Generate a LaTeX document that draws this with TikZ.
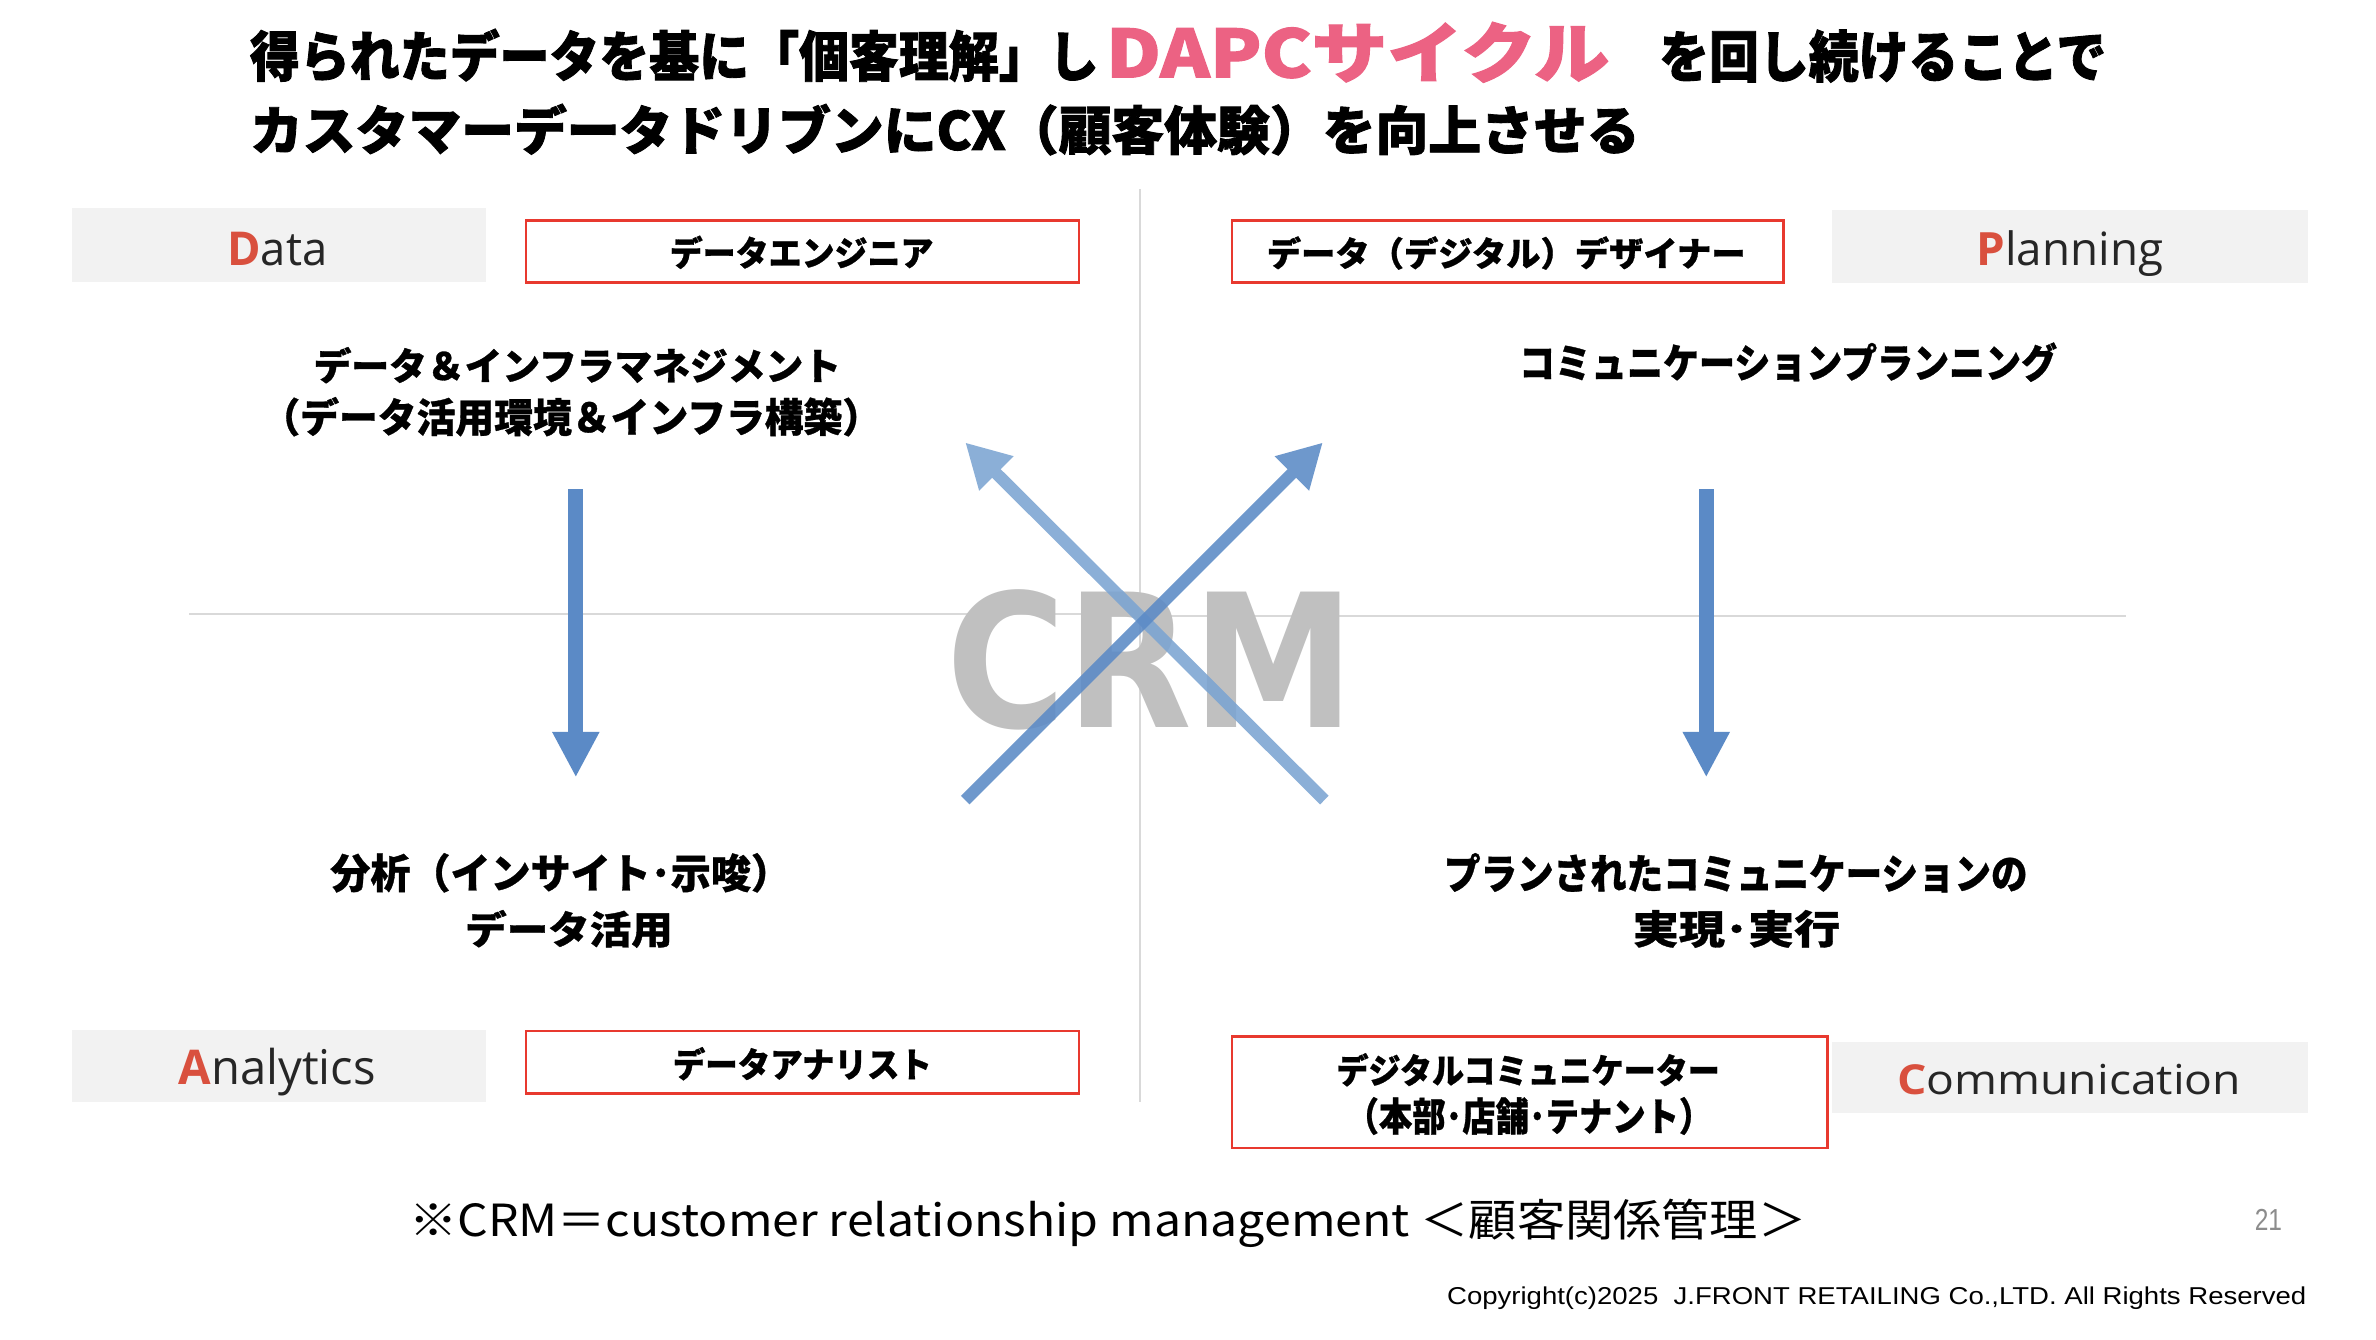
\documentclass[tikz,border=0pt]{standalone}
\usepackage{fontspec}
\usepackage{graphicx}
\usetikzlibrary{arrows.meta}
\newfontfamily\jpfont{Noto Sans CJK JP}
\newfontfamily\jph{Noto Sans CJK JP}[BoldFeatures={FakeBold=1.6}]
\newfontfamily\jpb{Noto Sans CJK JP}[BoldFeatures={FakeBold=0.8}]
\newfontfamily\labfont{Open Sans}
\newfontfamily\crmfont{DejaVu Sans}
\newfontfamily\arifont{Liberation Sans}
\definecolor{pinkc}{HTML}{EC6283}
\definecolor{redb}{HTML}{E8392F}
\definecolor{boxg}{HTML}{F2F2F2}
\definecolor{labred}{HTML}{D9503E}
\definecolor{labtxt}{HTML}{262626}
\definecolor{gridc}{HTML}{D9D9D9}
\definecolor{crmc}{HTML}{C0C0C0}
\definecolor{blued}{HTML}{5B8AC6}
\definecolor{bluel}{HTML}{7BA4D2}
\definecolor{pgnum}{HTML}{8C8C8C}
% width, total height (ink)
\newcommand\fitc[3]{\resizebox*{#1pt}{#2pt}{#3}}
% width, height above baseline
\newcommand\fitb[3]{\resizebox{#1pt}{#2pt}{#3}}
\begin{document}
\begin{tikzpicture}[x=1pt,y=-1pt,
  txt/.style={inner sep=0pt, outer sep=0pt},
  greybox/.style={fill=boxg, draw=none, inner sep=0pt},
  redbox/.style={draw=redb, line width=1.6pt, fill=white, inner sep=0pt},
  gridline/.style={draw=gridc, line width=1.5pt},
  downarrow/.style={draw=blued, fill=blued, line width=10pt, -{Triangle[width=29pt,length=30pt]}},
  diagarrow/.style={line width=8pt, -{Triangle[width=30pt,length=29pt]}},
]
\useasboundingbox (0,0) rectangle (1568,884);
\fill[white] (0,0) rectangle (1568,884);

% ---- title ----
\node[txt] (t1a) at (445,36.5) {\fitc{560}{35}{\jph\bfseries 得られたデータを基に「個客理解」し}};
\node[txt, text=pinkc] (t1b) at (896,34.5) {\fitc{332}{40}{\jph\bfseries DAPCサイクル}};
\node[txt] (t1c) at (1242.5,37) {\fitc{295}{35}{\jph\bfseries を回し続けることで}};
\node[txt] (t2) at (623.5,85.5) {\fitc{917}{34}{\jph\bfseries カスタマーデータドリブンにCX（顧客体験）を向上させる}};

% ---- grid lines ----
\coordinate (vtop) at (752.5,125);
\coordinate (vbot) at (752.5,727);
\coordinate (hl) at (125,405);
\coordinate (hm) at (752.5,405);
\coordinate (hm2) at (752.5,406.5);
\coordinate (hr) at (1403,406.5);
\draw[gridline] (vtop) -- (vbot);
\draw[gridline] (hl) -- (hm);
\draw[gridline] (hm2) -- (hr);

% ---- CRM ----
\node[txt, anchor=base, text=crmc] (crm) at (759.5,480) {\fitb{269}{91}{\crmfont\bfseries CRM}};

% ---- arrows ----
\coordinate (la1) at (380,323);
\coordinate (la2) at (380,513);
\coordinate (ra1) at (1126,323);
\coordinate (ra2) at (1126,513);
\draw[downarrow] (la1) -- (la2);
\draw[downarrow] (ra1) -- (ra2);
\coordinate (d1s) at (874,528);
\coordinate (d1e) at (637,292);
\coordinate (d2s) at (637,528);
\coordinate (d2e) at (873,292);
\begin{scope}[transparency group, opacity=0.88]
\draw[diagarrow, draw=bluel, fill=bluel] (d1s) -- (d1e);
\end{scope}
\begin{scope}[transparency group, opacity=0.88]
\draw[diagarrow, draw=blued, fill=blued] (d2s) -- (d2e);
\end{scope}

% ---- grey corner boxes ----
\node[greybox, minimum width=273.5pt, minimum height=49pt] (databox) at (184.25,161.5) {};
\node[txt, anchor=base, text=labtxt] (datalbl) at (183,175) {\fitb{66}{22}{\labfont{\bfseries\color{labred}D}ata}};
\node[greybox, minimum width=314pt, minimum height=48.5pt] (planbox) at (1366,162.8) {};
\node[txt, anchor=base, text=labtxt] (planlbl) at (1366,175) {\fitb{123}{23}{\labfont{\bfseries\color{labred}P}lanning}};
\node[greybox, minimum width=273.5pt, minimum height=47pt] (anabox) at (184.25,703.5) {};
\node[txt, anchor=base, text=labtxt] (analbl) at (183,716) {\fitb{130}{24}{\labfont{\bfseries\color{labred}A}nalytics}};
\node[greybox, minimum width=314pt, minimum height=47pt] (combox) at (1366,711) {};
\node[txt, anchor=base, text=labtxt] (comlbl) at (1365.5,722.6) {\fitb{227}{20}{\labfont{\bfseries\color{labred}C}ommunication}};

% ---- red role boxes ----
\node[redbox, minimum width=365pt, minimum height=41pt] (engbox) at (529.5,166) {};
\node[txt] (englbl) at (529,166.5) {\fitc{174}{22}{\jpb\bfseries データエンジニア}};
\node[redbox, minimum width=364pt, minimum height=41pt] (desbox) at (995,166) {};
\node[txt] (deslbl) at (994,167) {\fitc{316}{22}{\jpb\bfseries データ（デジタル）デザイナー}};
\node[redbox, minimum width=365pt, minimum height=41.5pt] (anlbox) at (529.5,701) {};
\node[txt] (anllbl) at (529.5,702) {\fitc{171}{22}{\jpb\bfseries データアナリスト}};
\node[redbox, minimum width=393pt, minimum height=73.5pt] (dcbox) at (1009.5,720.8) {};
\node[txt] (dclbl1) at (1008.5,706) {\fitc{253}{22}{\jpb\bfseries デジタルコミュニケーター}};
\node[txt] (dclbl2) at (1009,736.5) {\fitc{242}{25}{\jpb\bfseries （本部･店舗･テナント）}};

% ---- main texts ----
\node[txt] (m1a) at (381,241) {\fitc{348}{24}{\jpb\bfseries データ＆インフラマネジメント}};
\node[txt] (m1b) at (377,275) {\fitc{409}{26}{\jpb\bfseries （データ活用環境＆インフラ構築）}};
\node[txt] (m2a) at (1180,239) {\fitc{355}{26}{\jpb\bfseries コミュニケーションプランニング}};
\node[txt] (m3a) at (370,576) {\fitc{304}{26}{\jpb\bfseries 分析（インサイト･示唆）}};
\node[txt] (m3b) at (375.5,613) {\fitc{137}{25}{\jpb\bfseries データ活用}};
\node[txt] (m4a) at (1145.5,576) {\fitc{385}{26}{\jpb\bfseries プランされたコミュニケーションの}};
\node[txt] (m4b) at (1146,613) {\fitc{137}{25}{\jpb\bfseries 実現･実行}};

% ---- footer ----
\node[txt] (note) at (731,807) {\fitc{922}{32}{\jpfont ※CRM＝customer relationship management ＜顧客関係管理＞}};
\node[txt, text=pgnum] (pg) at (1497,805) {\fitc{18}{14}{\arifont 21}};
\node[txt] (copy) at (1238.5,857) {\fitc{567}{15}{\arifont Copyright(c)2025\ \ J.FRONT RETAILING Co.,LTD. All Rights Reserved}};
\end{tikzpicture}
\end{document}
